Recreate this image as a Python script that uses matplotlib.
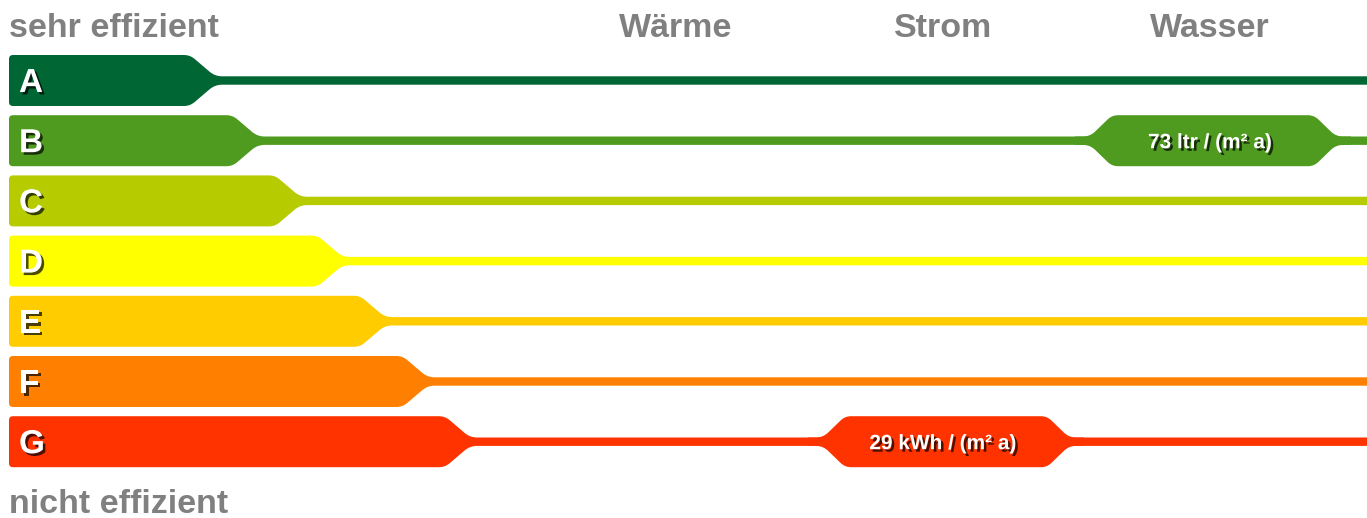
import matplotlib
matplotlib.use('Agg')
from matplotlib import pyplot as plt
from matplotlib.patches import PathPatch
from matplotlib.path import Path
import matplotlib.patheffects as pe
import numpy as np

# classes, colours and the readings per column
classes = ['A', 'B', 'C', 'D', 'E', 'F', 'G']
colors = ['#006633', '#4f9b1f', '#b7cc00', '#ffff00', '#ffcc00', '#ff7f00', '#ff3300']
columns = ['Wärme', 'Strom', 'Wasser']
ratings = [None, 'G', 'B']
labels = [None, '29 kWh / (m² a)', '73 ltr / (m² a)']
top_label = 'sehr effizient'
bottom_label = 'nicht effizient'

W, H = 1367, 518
fig = plt.figure(figsize=(W / 100, H / 100), dpi=100)
ax = fig.add_axes([0, 0, 1, 1])
ax.set_xlim(0, W)
ax.set_ylim(H, 0)
ax.axis('off')

plt.rcParams['font.family'] = ['Liberation Sans', 'DejaVu Sans']
grey = '#808080'


def rounded(pts, radii):
    # closed path, each corner smoothed by a quadratic curve
    pts = np.array(pts, float)
    n = len(pts)
    verts, codes = [], []
    for k in range(n):
        p, a, b = pts[k], pts[k - 1], pts[(k + 1) % n]
        rr = radii[k]
        u1 = (p - a) / np.hypot(*(p - a))
        u2 = (b - p) / np.hypot(*(b - p))
        s, e = p - rr * u1, p + rr * u2
        verts += [s, p, e]
        codes += [Path.LINETO, Path.CURVE3, Path.CURVE3]
    codes[0] = Path.MOVETO
    verts.append(verts[0])
    codes.append(Path.CLOSEPOLY)
    return Path(verts, codes)


row0, step = 80.5, 60.2
half_h = 25.5
lh = 4.2
col_x = [676, 943, 1210]

shadow = [pe.withSimplePatchShadow(offset=(1.8, -1.8), shadow_rgbFace='black', alpha=0.7)]

for i, (c, col) in enumerate(zip(classes, colors)):
    yc = row0 + step * i
    top, bot = yc - half_h, yc + half_h
    x1 = 190 + 42.5 * i
    x2 = x1 + 25
    pts = [(9, top), (x1, top), (x2, yc - lh), (W + 20, yc - lh),
           (W + 20, yc + lh), (x2, yc + lh), (x1, bot), (9, bot)]
    rad = [4, 6, 7, 0, 0, 7, 6, 4]
    ax.add_patch(PathPatch(rounded(pts, rad), facecolor=col, edgecolor='none'))
    ax.text(19, yc + 11.5, c, color='white', fontsize=24, fontweight='bold',
            ha='left', va='baseline', path_effects=shadow)

for j, (name, cls, lab) in enumerate(zip(columns, ratings, labels)):
    cx = col_x[j]
    ax.text(cx, 37, name, color=grey, fontsize=24.5, fontweight='bold',
            ha='center', va='baseline')
    if cls is None:
        continue
    i = classes.index(cls)
    yc = row0 + step * i
    top, bot = yc - half_h, yc + half_h
    col = colors[i]
    bx = cx + 3
    hw, tp = 123, 22
    pts = [(bx - hw - 15, yc - lh), (bx - hw, yc - lh), (bx - hw + tp, top),
           (bx + hw - tp, top), (bx + hw, yc - lh), (bx + hw + 15, yc - lh),
           (bx + hw + 15, yc + lh), (bx + hw, yc + lh), (bx + hw - tp, bot),
           (bx - hw + tp, bot), (bx - hw, yc + lh), (bx - hw - 15, yc + lh)]
    rad = [0, 7, 6, 6, 7, 0, 0, 7, 6, 6, 7, 0]
    ax.add_patch(PathPatch(rounded(pts, rad), facecolor=col, edgecolor='none'))
    ax.text(cx, yc + 7.5, lab, color='white', fontsize=15, fontweight='bold',
            ha='center', va='baseline', path_effects=shadow)

ax.text(9, 37, top_label, color=grey, fontsize=24.5, fontweight='bold', ha='left', va='baseline')
ax.text(9, 513, bottom_label, color=grey, fontsize=24.5, fontweight='bold', ha='left', va='baseline')

plt.savefig('out.png', dpi=100)
plt.close()
